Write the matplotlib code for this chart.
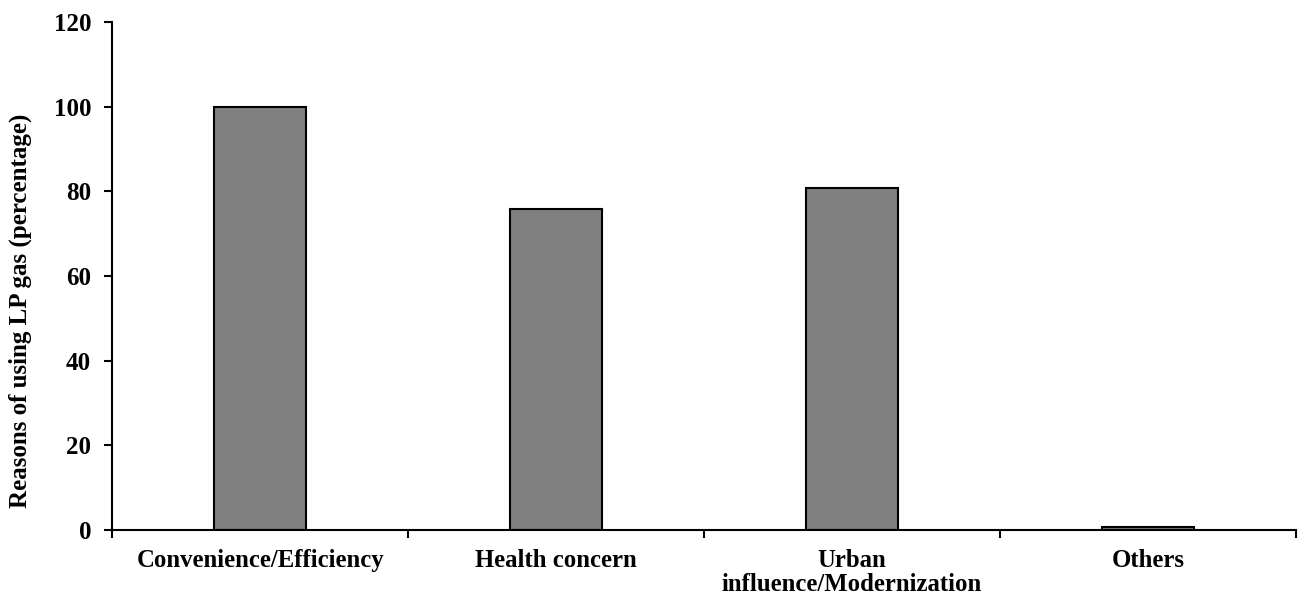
import matplotlib.pyplot as plt
import numpy as np

categories = ["Convenience/Efficiency", "Health concern",
              "Urban\ninfluence/Modernization", "Others"]
values = [100, 75.8, 80.7, 0.7]
y_ticks = [0, 20, 40, 60, 80, 100, 120]

plt.rcParams['font.family'] = ['Liberation Serif', 'DejaVu Serif']
plt.rcParams['font.weight'] = 'bold'

fig = plt.figure(figsize=(13, 5.99), dpi=100)
ax = fig.add_axes([0.0862, 0.1152, 0.9108, 0.8481])

x = np.arange(len(categories))
ax.bar(x, values, width=0.31, color='#808080', edgecolor='black', linewidth=1.5)

ax.set_xlim(-0.5, len(categories) - 0.5)
ax.set_ylim(0, 120)
ax.set_yticks(y_ticks)
ax.set_yticklabels([str(t) for t in y_ticks], fontsize=18, fontweight='bold')

# ticks at category boundaries, labels at centres
ax.set_xticks(np.arange(len(categories) + 1) - 0.5)
ax.set_xticklabels([])
ax.set_xticks(x, minor=True)
ax.set_xticklabels(categories, minor=True, fontsize=17.8, fontweight='bold')
ax.tick_params(axis='x', which='minor', length=0, pad=14)
ax.tick_params(axis='x', which='major', length=6, width=1.5, direction='out')
ax.tick_params(axis='y', length=6, width=1.5, direction='out', pad=9)
for lbl in ax.get_xticklabels(minor=True):
    lbl.set_horizontalalignment('center')
    lbl.set_multialignment('center')
    lbl.set_linespacing(1.05)

ax.spines['top'].set_visible(False)
ax.spines['right'].set_visible(False)
ax.spines['left'].set_linewidth(1.5)
ax.spines['bottom'].set_linewidth(1.5)

ax.set_ylabel("Reasons of using LP gas (percentage)", fontsize=18, fontweight='bold', labelpad=16)
ax.yaxis.label.set_y(0.431)

fig.savefig('out.png', dpi=100, facecolor='white')
